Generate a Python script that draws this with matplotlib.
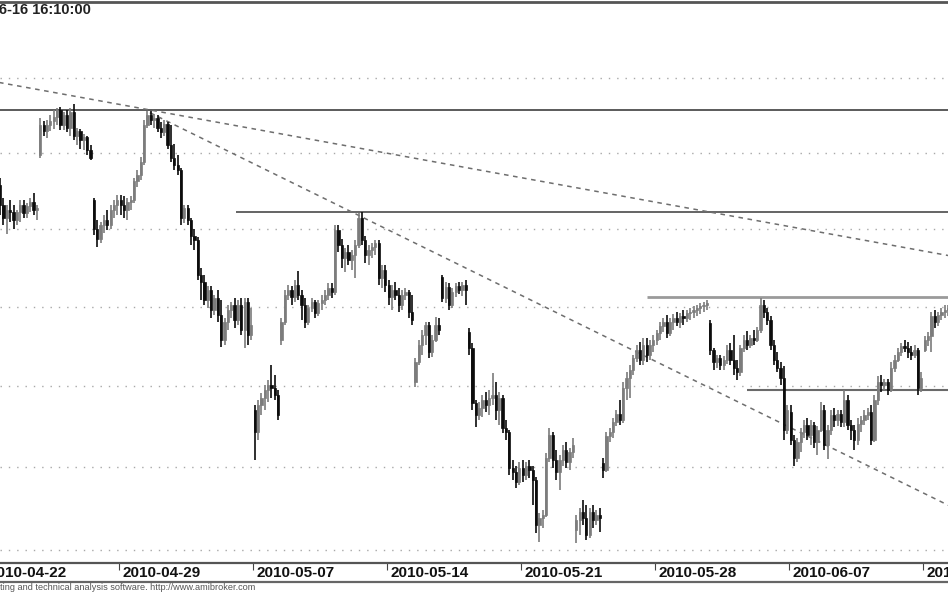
import numpy as np
import matplotlib
matplotlib.use('Agg')
import matplotlib.pyplot as plt
from matplotlib.lines import Line2D
from matplotlib.transforms import ScaledTranslation

plt.rcParams['font.family'] = ['Liberation Sans', 'DejaVu Sans']

# trading days shown (hourly bars, 8 per day; the first day is cut on the left)
days = ['2010-04-22', '2010-04-23', '2010-04-26', '2010-04-27', '2010-04-28',
        '2010-04-29', '2010-04-30', '2010-05-04', '2010-05-05', '2010-05-06',
        '2010-05-07', '2010-05-10', '2010-05-11', '2010-05-12', '2010-05-13',
        '2010-05-14', '2010-05-17', '2010-05-18', '2010-05-19', '2010-05-20',
        '2010-05-21', '2010-05-24', '2010-05-25', '2010-05-26', '2010-05-27',
        '2010-05-28', '2010-05-31', '2010-06-01', '2010-06-02', '2010-06-04',
        '2010-06-07', '2010-06-08', '2010-06-09', '2010-06-10', '2010-06-11',
        '2010-06-14']
bars_per_day = 8
first_day_bars = 4

opens = [
    2528.9, 2515.8, 2507.2, 2512.5,
    2511.2, 2505.9, 2511.2, 2515.8, 2510.5, 2515.1, 2517.7, 2512.5,
    2548.4, 2568.5, 2564.5, 2568.5, 2571.2, 2573.8, 2578.5, 2568.5,
    2575.2, 2566.5, 2577.2, 2561.2, 2564.5, 2558.5, 2560.5, 2551.8,
    2519.0, 2500.0, 2493.6, 2502.6, 2505.9, 2502.6, 2512.5, 2515.8,
    2519.0, 2515.8, 2512.5, 2517.7, 2519.0, 2530.9, 2535.4, 2544.0,
    2568.5, 2575.2, 2571.8, 2573.2, 2566.5, 2563.9, 2569.2, 2555.2,
    2546.6, 2542.0, 2538.7, 2507.2, 2513.8, 2505.9, 2495.5, 2492.9,
    2470.4, 2465.9, 2454.4, 2460.8, 2448.0, 2455.7, 2444.8, 2429.1,
    2440.4, 2448.0, 2451.1, 2441.7, 2451.1, 2435.4, 2453.1, 2432.2,
    2385.2, 2371.6, 2388.3, 2392.6, 2397.5, 2400.8, 2398.8, 2394.5,
    2429.1, 2440.4, 2457.6, 2460.8, 2456.3, 2464.0, 2457.6, 2451.1,
    2440.4, 2449.2, 2453.1, 2446.1, 2452.4, 2454.4, 2457.6, 2462.1,
    2459.5, 2499.4, 2489.7, 2481.4, 2485.2, 2480.1, 2483.3, 2489.7,
    2507.2, 2492.9, 2483.3, 2486.5, 2488.4, 2491.0, 2468.5, 2473.6,
    2464.0, 2456.3, 2460.8, 2457.6, 2451.1, 2457.6, 2459.5, 2446.7,
    2402.5, 2415.2, 2425.9, 2432.2, 2438.5, 2421.5, 2429.1, 2438.5,
    2469.1, 2455.7, 2462.7, 2451.1, 2459.5, 2463.4, 2460.8, 2464.0,
    2434.1, 2424.0, 2389.5, 2382.1, 2386.4, 2391.4, 2388.3, 2392.6,
    2394.5, 2385.2, 2392.6, 2374.1, 2371.6, 2349.4, 2347.0, 2341.0,
    2349.4, 2345.2, 2350.6, 2348.2, 2342.2, 2315.1, 2319.3, 2321.1,
    2355.6, 2369.8, 2354.3, 2347.0, 2354.3, 2360.5, 2353.1, 2359.3,
    2312.1, 2318.1, 2322.9, 2319.3, 2309.1, 2322.9, 2318.1, 2321.1,
    2352.5, 2348.2, 2369.2, 2371.6, 2377.8, 2382.7, 2379.0, 2398.8,
    2405.1, 2410.1, 2417.7, 2422.7, 2416.4, 2425.9, 2419.6, 2425.9,
    2429.1, 2433.4, 2437.9, 2440.4, 2433.4, 2440.4, 2442.9, 2440.4,
    2444.2, 2442.9, 2446.1, 2446.7, 2448.0, 2449.2, 2450.5, 2451.1,
    2439.8, 2422.7, 2415.2, 2417.7, 2413.3, 2416.4, 2422.7, 2416.4,
    2411.4, 2408.9, 2424.0, 2429.1, 2425.9, 2430.3, 2429.1, 2435.4,
    2451.1, 2446.7, 2441.7, 2425.9, 2416.4, 2411.4, 2405.1, 2372.9,
    2384.0, 2366.7, 2355.6, 2365.5, 2371.6, 2375.9, 2369.8, 2375.9,
    2365.5, 2372.9, 2385.2, 2363.6, 2372.9, 2382.1, 2379.0, 2382.7,
    2377.8, 2391.4, 2375.9, 2372.9, 2366.7, 2376.6, 2379.0, 2382.1,
    2384.0, 2366.7, 2391.4, 2402.5, 2400.6, 2402.5, 2397.5, 2411.4,
    2416.4, 2421.5, 2425.3, 2424.0, 2421.5, 2419.6, 2422.7, 2398.8,
    2422.7, 2429.1, 2431.6, 2444.2, 2440.4, 2444.8, 2446.7, 2448.0,
]
highs = [
    2533.5, 2520.3, 2515.8, 2519.0,
    2515.8, 2512.5, 2519.0, 2519.0, 2517.0, 2520.3, 2523.6, 2515.8,
    2573.2, 2571.2, 2571.8, 2575.2, 2578.5, 2579.8, 2580.5, 2577.2,
    2578.5, 2579.8, 2582.5, 2566.5, 2565.8, 2562.5, 2561.2, 2555.2,
    2520.3, 2505.9, 2504.6, 2509.2, 2512.5, 2515.8, 2519.0, 2522.3,
    2522.3, 2521.6, 2520.3, 2521.6, 2533.5, 2538.7, 2547.2, 2571.8,
    2577.8, 2577.8, 2575.8, 2575.2, 2570.5, 2571.8, 2570.5, 2568.5,
    2555.9, 2548.6, 2540.0, 2515.8, 2515.8, 2507.2, 2500.0, 2495.0,
    2474.9, 2470.4, 2463.4, 2463.4, 2457.6, 2460.8, 2454.4, 2442.9,
    2451.1, 2453.1, 2455.7, 2454.4, 2455.7, 2455.7, 2455.7, 2449.2,
    2388.3, 2391.4, 2395.7, 2400.8, 2403.8, 2413.3, 2406.9, 2397.5,
    2443.0, 2460.8, 2464.0, 2463.4, 2467.2, 2473.0, 2460.8, 2455.7,
    2451.1, 2455.7, 2454.4, 2454.4, 2457.6, 2460.8, 2465.3, 2465.3,
    2502.6, 2502.6, 2493.3, 2487.8, 2489.7, 2486.5, 2492.9, 2510.5,
    2511.2, 2495.5, 2489.7, 2491.0, 2492.9, 2492.9, 2476.9, 2476.9,
    2467.2, 2464.0, 2465.9, 2462.1, 2460.8, 2462.1, 2460.8, 2457.6,
    2417.7, 2429.1, 2435.4, 2440.4, 2440.4, 2432.2, 2443.6, 2442.9,
    2470.4, 2465.9, 2465.3, 2462.1, 2465.3, 2465.9, 2465.9, 2467.2,
    2436.6, 2427.2, 2391.4, 2390.1, 2394.5, 2396.3, 2397.5, 2408.3,
    2402.5, 2396.3, 2394.5, 2379.0, 2372.9, 2354.3, 2350.6, 2353.1,
    2354.3, 2353.1, 2354.3, 2350.6, 2344.0, 2322.3, 2324.1, 2358.6,
    2374.1, 2371.6, 2360.5, 2357.4, 2363.6, 2365.5, 2361.7, 2367.9,
    2321.1, 2325.3, 2330.1, 2327.1, 2325.3, 2327.1, 2324.1, 2325.3,
    2355.6, 2371.6, 2374.1, 2380.3, 2385.2, 2391.4, 2402.5, 2409.0,
    2413.3, 2419.6, 2425.9, 2427.8, 2430.3, 2430.3, 2429.1, 2432.2,
    2435.4, 2440.4, 2442.9, 2444.8, 2442.9, 2445.5, 2446.7, 2446.1,
    2448.0, 2448.0, 2449.2, 2450.5, 2451.1, 2452.4, 2453.1, 2454.4,
    2441.7, 2424.0, 2419.6, 2419.6, 2419.0, 2425.9, 2427.2, 2432.2,
    2416.4, 2425.9, 2432.2, 2434.7, 2432.2, 2435.4, 2437.3, 2455.7,
    2454.4, 2449.2, 2444.2, 2429.1, 2421.5, 2415.2, 2412.6, 2388.3,
    2388.3, 2369.8, 2367.9, 2374.1, 2379.0, 2380.3, 2379.0, 2377.8,
    2375.4, 2390.1, 2388.3, 2375.9, 2385.2, 2386.4, 2385.2, 2385.2,
    2397.5, 2394.5, 2379.0, 2375.9, 2380.3, 2381.5, 2385.2, 2386.4,
    2388.3, 2394.5, 2406.4, 2407.0, 2404.4, 2404.4, 2415.2, 2419.6,
    2424.0, 2427.2, 2429.1, 2427.8, 2425.3, 2425.9, 2424.0, 2408.9,
    2431.6, 2434.1, 2446.7, 2448.0, 2446.7, 2449.2, 2451.1, 2451.1,
]
lows = [
    2509.2, 2502.5, 2496.8, 2504.6,
    2500.0, 2502.6, 2504.6, 2507.2, 2507.2, 2511.2, 2509.2, 2505.9,
    2546.4, 2561.2, 2559.8, 2564.5, 2565.8, 2568.5, 2565.2, 2565.2,
    2563.9, 2561.2, 2558.5, 2555.2, 2552.6, 2551.9, 2548.6, 2545.3,
    2496.2, 2488.4, 2491.0, 2497.4, 2499.4, 2500.0, 2507.2, 2509.2,
    2509.2, 2507.2, 2505.9, 2512.5, 2517.0, 2527.0, 2532.2, 2542.0,
    2566.5, 2568.5, 2566.5, 2563.9, 2559.8, 2561.2, 2552.6, 2544.0,
    2538.7, 2535.4, 2502.6, 2503.9, 2502.6, 2489.7, 2486.5, 2467.2,
    2454.4, 2451.2, 2449.3, 2442.9, 2444.8, 2440.4, 2424.7, 2425.9,
    2435.4, 2442.9, 2436.6, 2438.5, 2432.2, 2424.1, 2425.9, 2429.1,
    2354.3, 2366.7, 2382.1, 2385.2, 2390.1, 2392.6, 2391.4, 2379.0,
    2425.9, 2438.5, 2454.4, 2451.1, 2453.1, 2454.4, 2441.7, 2436.6,
    2438.5, 2446.8, 2442.9, 2444.2, 2448.0, 2451.1, 2454.4, 2455.7,
    2457.6, 2485.2, 2475.0, 2472.3, 2476.9, 2473.6, 2468.5, 2487.8,
    2489.7, 2478.2, 2476.9, 2481.4, 2483.3, 2464.0, 2462.1, 2459.5,
    2451.1, 2448.0, 2454.4, 2446.7, 2448.0, 2454.4, 2442.9, 2438.5,
    2399.4, 2413.3, 2419.6, 2425.9, 2417.7, 2418.3, 2427.8, 2432.2,
    2453.1, 2452.4, 2448.0, 2449.2, 2456.3, 2458.2, 2457.0, 2451.1,
    2419.6, 2385.2, 2374.7, 2379.0, 2380.9, 2384.0, 2382.1, 2388.3,
    2379.0, 2376.0, 2371.0, 2366.7, 2345.2, 2342.2, 2337.4, 2339.2,
    2341.0, 2342.2, 2343.4, 2327.1, 2310.3, 2304.8, 2313.3, 2319.9,
    2353.1, 2349.4, 2342.2, 2336.2, 2350.6, 2349.4, 2348.2, 2355.6,
    2304.2, 2309.1, 2315.1, 2306.0, 2307.2, 2313.3, 2315.1, 2310.9,
    2343.4, 2347.0, 2365.5, 2367.9, 2375.4, 2376.0, 2377.2, 2391.4,
    2392.6, 2407.0, 2415.2, 2413.3, 2413.3, 2415.2, 2416.4, 2421.5,
    2425.9, 2429.1, 2434.1, 2430.3, 2431.6, 2435.4, 2437.9, 2436.6,
    2438.5, 2440.4, 2441.7, 2442.9, 2444.2, 2445.5, 2446.7, 2448.0,
    2419.6, 2410.1, 2411.4, 2410.1, 2410.1, 2414.0, 2413.3, 2407.0,
    2403.8, 2406.4, 2421.5, 2422.7, 2424.0, 2425.9, 2427.8, 2433.4,
    2442.9, 2438.5, 2422.7, 2413.3, 2408.9, 2400.6, 2366.7, 2370.4,
    2363.6, 2350.6, 2353.1, 2359.3, 2367.9, 2366.7, 2363.6, 2361.7,
    2357.4, 2371.6, 2360.5, 2355.0, 2369.8, 2374.7, 2375.4, 2374.7,
    2374.7, 2372.9, 2366.7, 2360.5, 2363.6, 2371.6, 2375.9, 2379.0,
    2363.6, 2365.5, 2388.3, 2396.3, 2397.5, 2394.5, 2396.3, 2408.9,
    2415.2, 2419.0, 2421.5, 2417.7, 2416.4, 2417.7, 2394.5, 2396.3,
    2421.5, 2425.3, 2421.5, 2436.6, 2437.9, 2441.7, 2442.9, 2444.2,
]
closes = [
    2515.8, 2507.2, 2512.5, 2511.2,
    2505.9, 2511.2, 2515.8, 2510.5, 2515.1, 2517.7, 2512.5, 2513.8,
    2568.5, 2564.5, 2568.5, 2571.2, 2573.8, 2578.5, 2568.5, 2575.2,
    2566.5, 2577.2, 2561.2, 2564.5, 2558.5, 2560.5, 2551.8, 2546.7,
    2500.0, 2493.6, 2502.6, 2505.9, 2502.6, 2512.5, 2515.8, 2519.0,
    2515.8, 2512.5, 2517.7, 2519.0, 2530.9, 2535.4, 2544.0, 2568.5,
    2575.2, 2571.8, 2573.2, 2566.5, 2563.9, 2569.2, 2555.2, 2546.6,
    2542.0, 2538.7, 2507.2, 2513.8, 2505.9, 2495.5, 2492.9, 2470.4,
    2465.9, 2454.4, 2460.8, 2448.0, 2455.7, 2444.8, 2429.1, 2440.4,
    2448.0, 2451.1, 2441.7, 2451.1, 2435.4, 2453.1, 2432.2, 2438.5,
    2371.6, 2388.3, 2392.6, 2397.5, 2400.8, 2398.8, 2394.5, 2382.1,
    2440.4, 2457.6, 2460.8, 2456.3, 2464.0, 2457.6, 2451.1, 2440.4,
    2449.2, 2453.1, 2446.1, 2452.4, 2454.4, 2457.6, 2462.1, 2459.5,
    2499.4, 2489.7, 2481.4, 2485.2, 2480.1, 2483.3, 2489.7, 2507.2,
    2492.9, 2483.3, 2486.5, 2488.4, 2491.0, 2468.5, 2473.6, 2464.0,
    2456.3, 2460.8, 2457.6, 2451.1, 2457.6, 2459.5, 2446.7, 2441.7,
    2415.2, 2425.9, 2432.2, 2438.5, 2421.5, 2429.1, 2438.5, 2435.4,
    2455.7, 2462.7, 2451.1, 2459.5, 2463.4, 2460.8, 2464.0, 2460.8,
    2424.0, 2389.5, 2382.1, 2386.4, 2391.4, 2388.3, 2392.6, 2394.5,
    2385.2, 2392.6, 2374.1, 2371.6, 2349.4, 2347.0, 2341.0, 2349.4,
    2345.2, 2350.6, 2348.2, 2342.2, 2315.1, 2319.3, 2321.1, 2355.6,
    2369.8, 2354.3, 2347.0, 2354.3, 2360.5, 2353.1, 2359.3, 2363.6,
    2318.1, 2322.9, 2319.3, 2309.1, 2322.9, 2318.1, 2321.1, 2319.3,
    2348.2, 2369.2, 2371.6, 2377.8, 2382.7, 2379.0, 2398.8, 2405.1,
    2410.1, 2417.7, 2422.7, 2416.4, 2425.9, 2419.6, 2425.9, 2429.1,
    2433.4, 2437.9, 2440.4, 2433.4, 2440.4, 2442.9, 2440.4, 2444.2,
    2442.9, 2446.1, 2446.7, 2448.0, 2449.2, 2450.5, 2451.1, 2452.4,
    2422.7, 2415.2, 2417.7, 2413.3, 2416.4, 2422.7, 2416.4, 2411.4,
    2408.9, 2424.0, 2429.1, 2425.9, 2430.3, 2429.1, 2435.4, 2451.1,
    2446.7, 2441.7, 2425.9, 2416.4, 2411.4, 2405.1, 2372.9, 2385.2,
    2366.7, 2355.6, 2365.5, 2371.6, 2375.9, 2369.8, 2375.9, 2365.5,
    2372.9, 2385.2, 2363.6, 2372.9, 2382.1, 2379.0, 2382.7, 2377.8,
    2391.4, 2375.9, 2372.9, 2366.7, 2376.6, 2379.0, 2382.1, 2384.0,
    2366.7, 2391.4, 2402.5, 2400.6, 2402.5, 2397.5, 2411.4, 2416.4,
    2421.5, 2425.3, 2424.0, 2421.5, 2419.6, 2422.7, 2398.8, 2405.1,
    2429.1, 2431.6, 2444.2, 2440.4, 2444.8, 2446.7, 2448.0, 2449.2,
]

# grid levels of the price axis (no labels are visible in the crop)
grid_levels = [2300, 2350, 2400, 2450, 2500, 2550, 2600]

# drawn support/resistance levels: (price, first bar index)
levels = [(2578.5, -2), (2511.0, 70.4), (2456.0, 193.1), (2397.5, 223.0)]
level_colors = ['#5a5a5a', '#4a4a4a', '#9a9a9a', '#6a6a6a']
level_widths = [1.4, 1.2, 2.0, 1.5]

# dashed trend lines: (bar0, price0, bar1, price1)
trends = [(-2, 2597.5, 290, 2480.0), (44.7, 2576.5, 290, 2320.0)]

o = np.array(opens)
h = np.array(highs)
l = np.array(lows)
c = np.array(closes)
x = np.arange(len(o))

fig = plt.figure(figsize=(9.48, 5.93), dpi=100)
ax = fig.add_axes([0, 30 / 593, 1, 561 / 593])
ax.set_yscale('log')

for g in grid_levels:
    ax.axhline(g, color='#a8a8a8', lw=1.0, ls=(0, (1, 5)), zorder=0)

for (lev, start), col, lw in zip(levels, level_colors, level_widths):
    ax.hlines(lev, start, 300, color=col, lw=lw, zorder=1)

for x0, p0, x1, p1 in trends:
    ax.plot([x0, x1], [p0, p1], color='#6e6e6e', lw=1.1, ls=(0, (3, 3)), zorder=1)

up = c >= o
col = np.where(up, '#7c7c7c', '#0c0c0c')
ax.vlines(x, l, h, colors=col, lw=1.2, zorder=2)
ax.bar(x, np.abs(c - o), bottom=np.minimum(o, c), width=0.68,
       color=col, edgecolor=col, linewidth=0.5, zorder=3)

# x axis: a tick at the start of every fifth trading day
tick_days = list(range(0, len(days), 5))
tick_pos = [bars_per_day * d - (bars_per_day - first_day_bars) - 0.5 for d in tick_days]
ax.set_xticks(tick_pos)
ax.tick_params(axis='x', direction='out', length=5, width=0.8, color='#444444',
               labelbottom=False)
ax.yaxis.set_visible(False)

# limits last, set_xticks would widen them
ax.set_xlim(-0.03, 282.96)
ax.set_ylim(2292.3, 2651.6)

shift = ScaledTranslation(3 / 100, 0, fig.dpi_scale_trans)
for d, t in zip(tick_days, tick_pos):
    ax.text(t, -0.005, days[d], transform=ax.get_xaxis_transform() + shift,
            ha='left', va='top', fontsize=11, fontweight='bold', color='#111111',
            clip_on=False)

for side in ['left', 'right']:
    ax.spines[side].set_visible(False)
ax.spines['top'].set_color('#555555')
ax.spines['top'].set_linewidth(2)
ax.spines['bottom'].set_color('#555555')
ax.spines['bottom'].set_linewidth(1.6)

fig.add_artist(Line2D([0, 1], [(593 - 581.5) / 593] * 2, color='#666666', lw=1.6))

fig.text(91 / 948, (593 - 10) / 593, '2010-06-16 16:10:00', ha='right', va='center',
         fontsize=10.5, fontweight='bold', color='#222222')
fig.text(255 / 948, (593 - 588) / 593,
         'AmiBroker - charting and technical analysis software. http://www.amibroker.com',
         ha='right', va='center', fontsize=6.6, color='#555555')

fig.savefig('out.png', dpi=100, facecolor='white')
